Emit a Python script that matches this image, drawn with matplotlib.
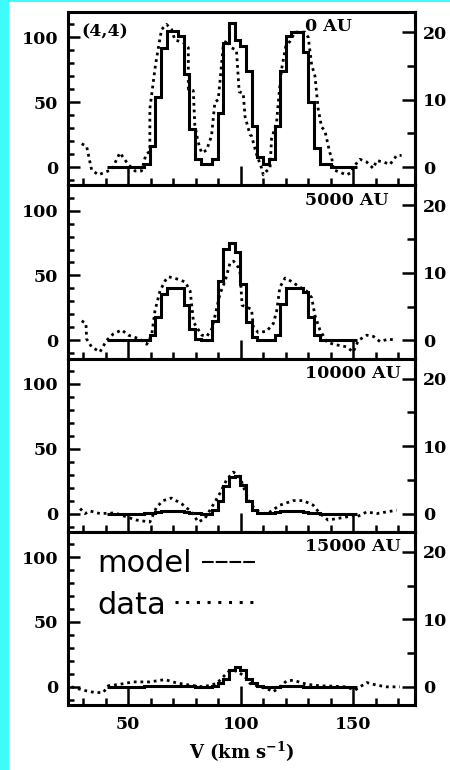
import numpy as np
import matplotlib
matplotlib.use('Agg')
import matplotlib.pyplot as plt
from matplotlib.ticker import MultipleLocator
from matplotlib.patches import Rectangle

# model channel edges (km/s), shared by all four offsets
v_edges = [40.4, 57.0, 59.5, 62.0, 64.6, 67.1, 69.6, 72.1, 74.6, 77.2, 79.7, 82.2,
           84.7, 87.2, 89.8, 92.3, 94.8, 97.3, 99.8, 102.4, 104.9, 107.4, 109.9,
           112.4, 115.0, 117.5, 120.0, 122.5, 125.0, 127.6, 130.1, 132.6, 135.1,
           137.6, 140.2, 151.5]

model_0 = [0, 2.3, 16, 54, 92, 105, 105, 101, 72, 29, 6, 2, 2, 6, 42, 96, 111, 98,
           93, 74, 32, 7.6, 2.5, 6, 32, 74, 101, 104, 104, 89, 50, 15, 2.5, 2.5, 0]
model_5000 = [0, 0, 3.8, 18, 36, 40.5, 40.5, 40.5, 27, 9, 1.3, 0, 0, 15, 46, 70.5,
              75, 68, 43.6, 14, 2.3, 0.5, 0.5, 0.5, 4, 28, 40, 40, 40, 37, 18, 3.8,
              0, 0, 0]
model_10000 = [0, 0.3, 0.8, 1.3, 1.8, 2, 2, 1.8, 1.3, 0.8, 0.3, 0, 0, 3, 10, 21,
               28, 29, 22, 10, 2.5, 0.5, 0.3, 0.6, 1.2, 1.7, 2, 2, 1.8, 1.3, 0.8,
               0.3, 0, 0, 0]
model_15000 = [0, 0.4, 0.6, 0.8, 1, 1, 1, 0.8, 0.6, 0.4, 0.2, 0, 0, 0.5, 2.6, 6.4,
               13.3, 15.4, 12.8, 6.4, 2.6, 0.5, 0, 0, 0.2, 0.4, 0.5, 0.5, 0.4, 0.2,
               0, 0, 0, 0, 0]

# observed spectra
v_data_0 = [29.3, 31.5, 33.7, 36.7, 39.6, 42.6, 46.3, 50.0, 53.0, 55.9, 57.9, 59.6,
            59.6, 61.9, 62.6, 64.8, 67.0, 69.3, 70.7, 74.4, 76.7, 76.7, 78.9, 79.6,
            81.1, 82.6, 84.8, 87.0, 88.5, 90.0, 92.2, 93.7, 95.9, 98.1, 99.3, 101.1,
            101.9, 104.1, 104.8, 107.0, 109.3, 110.0, 111.5, 113.0, 113.7, 115.9,
            116.7, 118.1, 120.0, 121.9, 124.1, 126.3, 128.5, 130.0, 131.5, 133.0,
            134.4, 135.9, 137.4, 139.6, 140.4, 141.1, 144.1, 147.0, 149.3, 150.0,
            153.0, 155.9, 158.9, 160.4, 163.3, 166.3, 169.3, 171.5]
data_0 = [18, 16, -2, -6, -4, -2, 11, 2, -3, -3, 10, 12, 45, 76, 84, 106, 110, 106,
          98, 96, 92, 60, 59, 32, 19, 11, 13, 24, 50, 52, 93, 98, 92, 90, 58, 57, 39,
          25, 24, 10, -1, -6, -3, -1, 22, 34, 50, 75, 93, 97, 104, 104, 104, 100, 79,
          70, 45, 31, 28, 11, 8, -2, -4, -6, -4, 0, 6, 4, -1, 5, 4, 2, 9, 9]

v_data_5000 = [29.3, 31.2, 31.5, 33.7, 37.4, 40.4, 43.4, 47.1, 50.0, 55.2, 58.2,
               60.4, 61.9, 64.1, 66.4, 67.9, 72.3, 75.3, 77.5, 78.3, 79.0, 80.5,
               82.7, 84.9, 87.2, 88.7, 90.8, 93.1, 95.3, 96.8, 99.0, 99.7, 100.6,
               104.8, 105.6, 107.8, 111.5, 114.5, 116.0, 117.4, 119.7, 121.9, 126.3,
               129.3, 131.5, 133.0, 135.2, 138.2, 141.1, 147.0, 150.0, 152.3, 156.0,
               159.0, 161.9, 165.6, 169.3]
data_5000 = [15, 13, 1, -5, -9, 0, 5, 8, 4, 1, -3, 4, 23, 38, 46, 49, 47, 45, 38, 26,
             14, 10, 4, 3, 9, 20, 36, 46, 60, 61, 56, 52, 27, 24, 10, 6, 7, 13, 23,
             41, 48, 46, 41, 38, 33, 19, 8, -1, -3, -5, -9, 0, 4, 3, -1, 1, 0]

v_data_10000 = [28.6, 30.8, 33.0, 37.4, 44.1, 50.0, 53.7, 59.6, 62.6, 65.5, 69.2,
                73.7, 78.1, 81.1, 84.0, 86.3, 88.5, 90.7, 93.7, 96.7, 98.9, 100.4,
                102.6, 104.1, 107.0, 110.0, 113.0, 117.4, 123.3, 127.8, 132.2, 135.2,
                138.8, 142.5, 147.0, 150.0, 151.5, 156.0, 160.4, 164.8, 169.3]
data_10000 = [3.9, 0, 2, 0, 0.5, -3, -5, -6.5, 5, 10, 12, 7.6, 1.3, -6.5, -3.9, 2.6,
              9, 15.5, 26, 32, 29.7, 24.5, 14, 7.8, 2.6, 0, 1.3, 6.5, 10, 10, 6.5, 0,
              -5, -3.9, -2.6, -1.3, -2.6, 1.3, 0, 1.3, 2.6]

v_data_15000 = [24.8, 30.0, 35.2, 38.9, 41.1, 46.3, 52.2, 59.6, 66.3, 71.5, 77.5,
                83.4, 89.3, 92.2, 94.4, 96.7, 98.9, 101.9, 104.1, 108.5, 111.5, 114.5,
                117.4, 120.4, 123.3, 129.3, 135.2, 141.1, 147.0, 150.7, 153.0, 156.0,
                160.4, 164.8, 170.7]
data_15000 = [0, -2.6, -4.4, -4.4, 0.8, 2, 3.8, 3.8, 5.6, 3, 1.3, 0, 2.6, 7.7, 11.5,
              12.8, 11.5, 7.7, 2.6, 0, -1.3, -3.8, 0, 4.6, 5.1, 2, 0.8, 0.5, 0, -2.6,
              0, 3.3, 1.3, 0, 0]

panel_labels = ['0 AU', '5000 AU', '10000 AU', '15000 AU']
models = [model_0, model_5000, model_10000, model_15000]
v_datas = [v_data_0, v_data_5000, v_data_10000, v_data_15000]
datas = [data_0, data_5000, data_10000, data_15000]

plt.rcParams['font.family'] = 'DejaVu Serif'
plt.rcParams['font.weight'] = 'bold'
plt.rcParams['axes.labelweight'] = 'bold'
plt.rcParams['mathtext.fontset'] = 'dejavuserif'

scale = 5.2  # left axis / right axis

fig, axes = plt.subplots(4, 1, sharex=True, figsize=(4.5, 7.7), dpi=100)
fig.subplots_adjust(left=0.151, right=0.922, top=0.9844, bottom=0.0844, hspace=0)
fig.patch.set_facecolor('#3ffcfc')
fig.patches.append(Rectangle((9 / 450, 0), 1, 1 - 2 / 770, transform=fig.transFigure,
                             facecolor='white', edgecolor='none', zorder=-1))

for ax, model, vd, d, lab in zip(axes, models, v_datas, datas, panel_labels):
    ax.stairs(model, v_edges, baseline=None, color='k', lw=2.2)
    ax.plot(vd, d, color='k', lw=2.0, linestyle=(0, (1, 1.4)))

    ax.set_xlim(23.2, 177.4)
    ax.set_ylim(-14, 119.5)
    ax.xaxis.set_major_locator(MultipleLocator(50))
    ax.xaxis.set_minor_locator(MultipleLocator(10))
    ax.yaxis.set_major_locator(MultipleLocator(50))
    ax.yaxis.set_minor_locator(MultipleLocator(10))
    ax.tick_params(which='both', direction='in', top=False, right=False,
                   width=1.8, labelsize=12.5)
    ax.tick_params(axis='y', which='major', length=8.5, pad=7)
    ax.tick_params(axis='y', which='minor', length=4.3)
    ax.tick_params(axis='x', which='major', length=14, pad=8)
    ax.tick_params(axis='x', which='minor', length=5)
    for lbl in ax.get_xticklabels() + ax.get_yticklabels():
        lbl.set_fontweight('bold')
    for s in ax.spines.values():
        s.set_linewidth(2.2)

    sec = ax.secondary_yaxis('right', functions=(lambda y: y / scale, lambda y: y * scale))
    sec.yaxis.set_major_locator(MultipleLocator(10))
    sec.yaxis.set_minor_locator(MultipleLocator(5))
    sec.tick_params(which='both', direction='in', width=1.8, labelsize=12.5)
    sec.tick_params(which='major', length=9.5, pad=6)
    sec.tick_params(which='minor', length=5.5)
    for lbl in sec.get_yticklabels():
        lbl.set_fontweight('bold')
    sec.spines['right'].set_linewidth(2.2)

    ax.text(0.683, 0.914, lab, transform=ax.transAxes, fontsize=12.5,
            ha='left', va='center')

axes[0].text(0.04, 0.885, '(4,4)', transform=axes[0].transAxes, fontsize=12.5,
             ha='left', va='center')

# hand-made key in the last panel
ax = axes[3]
key_font = dict(family='DejaVu Sans', size=22, weight='normal')
ax.text(0.084, 0.767, 'model', transform=ax.transAxes, va='baseline', **key_font)
ax.text(0.084, 0.523, 'data', transform=ax.transAxes, va='baseline', **key_font)
ax.plot([0.386, 0.545], [0.826, 0.826], transform=ax.transAxes, color='k',
        lw=1.5, linestyle=(0, (5.6, 1.0)))
ax.plot([0.308, 0.548], [0.593, 0.593], transform=ax.transAxes, color='k',
        lw=2.2, linestyle=(0, (1, 2.5)))

ax.set_xlabel(r'V (km s$^{\mathbf{-1}}$)', fontsize=13, labelpad=5)

fig.savefig('out.png', dpi=100)
